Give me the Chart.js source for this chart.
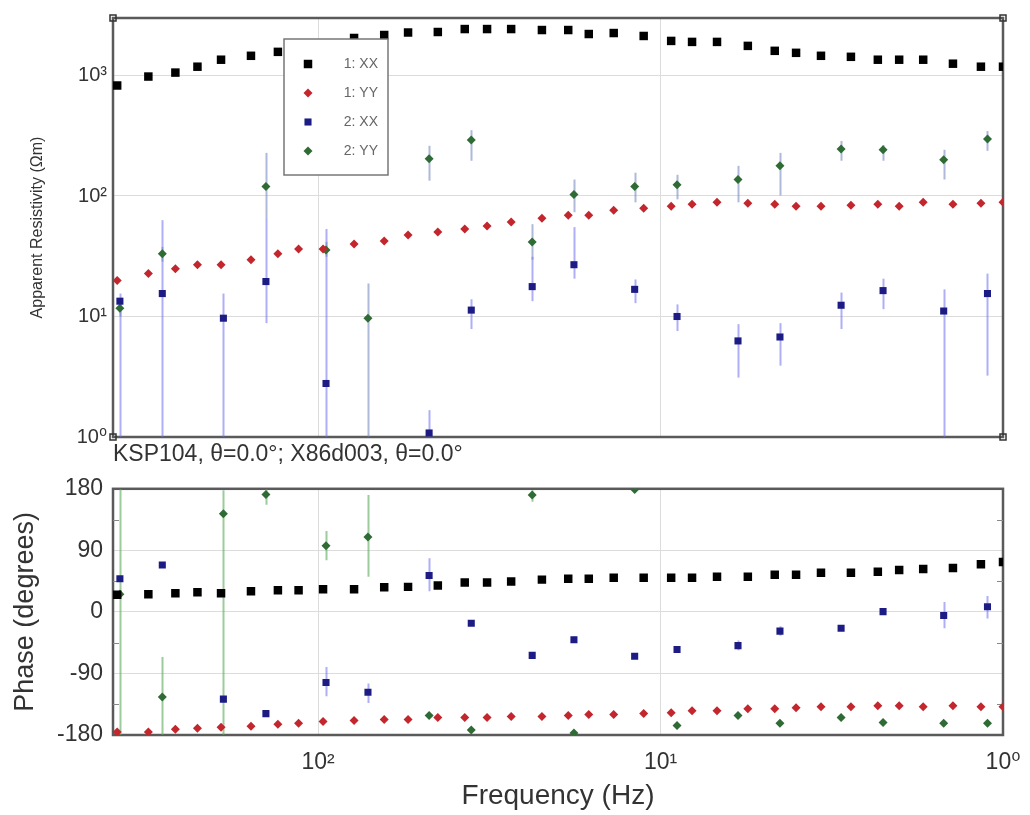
<!DOCTYPE html>
<html>
<head>
<meta charset="utf-8">
<script src="https://cdn.jsdelivr.net/npm/chart.js@4.4.0/dist/chart.umd.min.js"></script>
<style>
  body { margin: 0; background: #fff; }
  #wrap { position: relative; width: 1030px; height: 815px; overflow: hidden; }
  .box { position: absolute; left: 0; width: 1030px; }
</style>
</head>
<body>
<div id="wrap">
  <div class="box" style="top:0;height:465px"><canvas id="rhoChart"></canvas></div>
  <div class="box" style="top:465px;height:350px"><canvas id="phaseChart"></canvas></div>
</div>
<script>
// site 1 (KSP104) frequencies, Hz
var freq1 = [386, 313, 261, 225, 192, 157, 131, 114, 96.7, 78.5, 64.1, 54.6, 44.7, 37.3, 32.1, 27.3, 22.2, 18.6,
  16.2, 13.7, 11.2, 9.31, 8.09, 6.84, 5.56, 4.64, 4.02, 3.40, 2.78, 2.32, 2.01, 1.71, 1.40, 1.16, 1.0];
var rhoXX1 = [826, 980, 1057, 1183, 1352, 1457, 1571, 1663, 1761, 2048, 2168, 2274, 2296, 2429, 2429, 2429, 2384, 2384,
  2209, 2251, 2128, 1936, 1900, 1900, 1761, 1602, 1542, 1457, 1429, 1352, 1352, 1352, 1253, 1183, 1183];
var rhoYY1 = [19.9, 22.7, 24.9, 26.9, 26.9, 29.6, 33.1, 36.4, 36.4, 40.0, 42.4, 47.5, 50.2, 53.2, 56.3, 60.7, 65.5, 69.3,
  69.3, 76.2, 79.1, 82.2, 85.3, 88.6, 86.9, 85.3, 82.2, 82.2, 83.7, 85.3, 82.2, 88.6, 85.3, 86.9, 88.6];
var phsXX1 = [25, 25.9, 27.3, 28.8, 27.3, 30.2, 31.6, 31.6, 33.0, 33.0, 35.9, 36.6, 38.7, 43.0, 43.0, 44.4, 47.2, 48.6,
  48.6, 50.1, 50.1, 50.1, 50.1, 51.5, 51.5, 54.3, 54.3, 57.2, 57.2, 58.6, 61.4, 62.8, 64.3, 69.7, 72.8];
var phsYY1 = [-175.7, -175.7, -171.5, -170.1, -168.6, -167.2, -164.4, -163.0, -160.1, -158.7, -157.3, -157.3, -154.4,
  -154.4, -154.4, -153.0, -153.0, -151.6, -150.2, -150.2, -148.7, -147.3, -144.5, -144.5, -141.6, -141.6, -140.2,
  -138.8, -138.8, -137.4, -137.4, -138.8, -137.4, -138.8, -138.8];

// site 2 (X86d003) frequencies, Hz, with error bar ends
var freq2 = [379, 285, 189, 142, 94.8, 71.5, 47.4, 35.7, 23.7, 17.9, 11.9, 8.95, 5.94, 4.48, 2.97, 2.24, 1.49, 1.11];
var rhoXX2 = [13.4, 15.5, 9.68, 19.5, 2.78, null, 1.08, 11.3, 17.7, 26.9, 16.8, 10.0, 6.27, 6.76, 12.4, 16.4, 11.1, 15.5];
var rhoXX2Lo = [0.5, 0.5, 0.5, 8.81, 0.5, null, 0.94, 7.87, 13.4, 20.6, 12.9, 7.57, 3.11, 3.91, 7.87, 11.5, 0.5, 3.23];
var rhoXX2Hi = [15.5, 63.0, 15.5, 66.7, 53.2, null, 1.67, 13.9, 31.3, 55.2, 20.3, 12.6, 8.64, 8.81, 15.8, 20.6, 16.8, 22.7];
var rhoYY2 = [11.7, 33.1, null, 120, 35.7, 9.68, 204, 292, 41.6, 103, 120, 124, 137, 178, 246, 242, 200, 297];
var rhoYY2Lo = [10.0, 28.5, null, 66.7, 31.3, 0.5, 134, 196, 29.6, 73.3, 88.6, 93.8, 88.6, 101, 196, 196, 137, 237];
var rhoYY2Hi = [13.4, 37.8, null, 228, 41.6, 18.8, 261, 352, 58.4, 137, 156, 150, 178, 228, 286, 265, 242, 346];
var phsXX2 = [48.6, 68.5, -127.5, -148.7, -103.3, -117.5, 53.3, -16.7, -63.6, -40.8, -64.9, -55.0, -49.3, -28.1,
  -23.8, 0.4, -5.3, 7.5];
var phsXX2Lo = [45, 65, -131, -152, -123.2, -133.1, 30.2, -20, -67, -45, -69, -60, -56, -35, -28, -4, -23.8, -9.6];
var phsXX2Hi = [52, 72, -124, -145, -80.6, -104.7, 78.5, -13, -60, -36, -60, -50, -42, -21, -19, 5, 14.6, 23.1];
var phsYY2 = [25.9, -124.6, 143.5, 171.7, 96.9, 109.7, -151.6, -172.6, 170.8, -176.9, 179, -166.1, -151.6, -163.0,
  -154.4, -161.6, -163.0, -163.0];
var phsYY2Lo = [-180, -180, -180, 156.6, 75.6, 51.5, -155, -176, 160.9, -180, 176, -169, -155, -166, -157, -165, -166, -166];
var phsYY2Hi = [180, -65.9, 177.9, 179.3, 118.2, 170.8, -148, -169, 177.9, -174, 182, -163, -148, -160, -151, -158, -160, -160];

// axes
var freqMin = 1, freqMax = 397;
var freqTicks = [1, 10, 100];
var freqTickLabels = ['10⁰', '10¹', '10²'];
var rhoMin = 1, rhoMax = 3000;
var rhoTicks = [1, 10, 100, 1000];
var rhoTickLabels = ['10⁰', '10¹', '10²', '10³'];
var phaseTicks = [-180, -90, 0, 90, 180];
var phaseMinorTicks = [-135, -45, 45, 135];
var seriesLabels = ['1: XX', '1: YY', '2: XX', '2: YY'];
var noteText = 'KSP104, θ=0.0°; X86d003, θ=0.0°';

Chart.defaults.font.family = '"Liberation Sans", Arial, "DejaVu Sans", sans-serif';
Chart.defaults.color = '#333';

var gridColor = '#dcdcdc';
var colXX1 = '#000000', colYY1 = '#c3262c', colXX2 = '#1c1c84', colYY2 = '#2f6b35';

function pts(xs, ys) {
  return xs.map(function(x, i) { return { x: x, y: ys[i] }; });
}

// frame round the plot area, corner squares and small inside ticks
var framePlugin = {
  id: 'frame',
  beforeDatasetsDraw: function(chart, args, opts) {
    var a = chart.chartArea, ctx = chart.ctx;
    ctx.save();
    ctx.strokeStyle = '#5a5a5a';
    ctx.lineWidth = 2.5;
    ctx.strokeRect(a.left, a.top, a.right - a.left, a.bottom - a.top);
    if (opts.minor) {
      ctx.lineWidth = 1;
      ctx.strokeStyle = '#888';
      opts.minor.forEach(function(v) {
        var y = Math.round(chart.scales.y.getPixelForValue(v)) + 0.5;
        ctx.beginPath();
        ctx.moveTo(a.left, y); ctx.lineTo(a.left + 6, y);
        ctx.moveTo(a.right, y); ctx.lineTo(a.right - 6, y);
        ctx.stroke();
      });
    }
    if (opts.corners) {
      ctx.lineWidth = 1.5;
      ctx.strokeStyle = '#333';
      [[a.left, a.top], [a.right, a.top], [a.left, a.bottom], [a.right, a.bottom]].forEach(function(c) {
        ctx.strokeRect(c[0] - 3, c[1] - 3, 6, 6);
      });
    }
    ctx.restore();
  }
};

// vertical error bars from errLo / errHi on each dataset
var errorBarPlugin = {
  id: 'errorBars',
  beforeDatasetsDraw: function(chart) {
    var ctx = chart.ctx, a = chart.chartArea;
    var xs = chart.scales.x, ys = chart.scales.y;
    ctx.save();
    ctx.beginPath();
    ctx.rect(a.left, a.top, a.right - a.left, a.bottom - a.top);
    ctx.clip();
    chart.data.datasets.forEach(function(ds) {
      if (!ds.errLo) return;
      ctx.strokeStyle = ds.errColor;
      ctx.lineWidth = 2;
      ds.data.forEach(function(p, i) {
        if (ds.errLo[i] === null || ds.errHi[i] === null) return;
        var x = Math.round(xs.getPixelForValue(p.x)) + 0.5;
        ctx.beginPath();
        ctx.moveTo(x, ys.getPixelForValue(ds.errLo[i]));
        ctx.lineTo(x, ys.getPixelForValue(ds.errHi[i]));
        ctx.stroke();
      });
    });
    ctx.restore();
  }
};

// legend box inside the top panel
var legendPlugin = {
  id: 'boxLegend',
  afterDatasetsDraw: function(chart) {
    var ctx = chart.ctx, a = chart.chartArea;
    var bx = a.left + 171, by = a.top + 21, bw = 104, bh = 136;
    ctx.save();
    ctx.fillStyle = '#fff';
    ctx.fillRect(bx, by, bw, bh);
    ctx.strokeStyle = '#777';
    ctx.lineWidth = 1.5;
    ctx.strokeRect(bx, by, bw, bh);
    ctx.font = '14px "Liberation Sans", Arial, sans-serif';
    ctx.textAlign = 'right';
    ctx.textBaseline = 'middle';
    chart.data.datasets.forEach(function(ds, i) {
      var y = by + 25 + i * 29;
      ctx.fillStyle = ds.backgroundColor;
      Chart.helpers.drawPoint(ctx, { pointStyle: ds.pointStyle, radius: ds.pointRadius, borderWidth: 0 }, bx + 24, y);
      ctx.fillStyle = '#666';
      ctx.fillText(ds.label, bx + bw - 10, y);
    });
    ctx.restore();
  }
};

// station note under the top panel
var notePlugin = {
  id: 'note',
  afterDraw: function(chart) {
    var ctx = chart.ctx, a = chart.chartArea;
    ctx.save();
    ctx.font = '23px "Liberation Sans", Arial, sans-serif';
    ctx.fillStyle = '#333';
    ctx.textAlign = 'left';
    ctx.textBaseline = 'middle';
    ctx.fillText(noteText, a.left, a.bottom + 18);
    ctx.restore();
  }
};

function freqAxis(showLabels) {
  return {
    type: 'logarithmic',
    reverse: true,
    min: freqMin,
    max: freqMax,
    afterBuildTicks: function(s) { s.ticks = freqTicks.map(function(v) { return { value: v }; }); },
    afterFit: function(s) { s.height = showLabels ? 80 : 28; },
    grid: { color: gridColor, drawTicks: false },
    border: { display: false },
    ticks: {
      display: showLabels,
      padding: 14,
      font: { size: 23 },
      color: '#333',
      maxRotation: 0,
      callback: function(v, i) { return freqTickLabels[i]; }
    },
    title: {
      display: showLabels,
      text: 'Frequency (Hz)',
      font: { size: 28 },
      color: '#333',
      padding: { top: 0, bottom: 2 }
    }
  };
}

var pointOpts = {
  xx1: { pointStyle: 'rect', pointRadius: 6, backgroundColor: colXX1, borderColor: colXX1, borderWidth: 0 },
  yy1: { pointStyle: 'rectRot', pointRadius: 4.5, backgroundColor: colYY1, borderColor: colYY1, borderWidth: 0 },
  xx2: { pointStyle: 'rect', pointRadius: 5, backgroundColor: colXX2, borderColor: colXX2, borderWidth: 0 },
  yy2: { pointStyle: 'rectRot', pointRadius: 4.5, backgroundColor: colYY2, borderColor: colYY2, borderWidth: 0 }
};

function ds(label, data, style, extra) {
  var d = Object.assign({ label: label, data: data, pointHoverRadius: style.pointRadius }, style);
  return Object.assign(d, extra || {});
}

// top panel: apparent resistivity
new Chart(document.getElementById('rhoChart'), {
  type: 'scatter',
  data: {
    datasets: [
      ds(seriesLabels[0], pts(freq1, rhoXX1), pointOpts.xx1),
      ds(seriesLabels[1], pts(freq1, rhoYY1), pointOpts.yy1),
      ds(seriesLabels[2], pts(freq2, rhoXX2), pointOpts.xx2,
        { errLo: rhoXX2Lo, errHi: rhoXX2Hi, errColor: 'rgba(110,110,240,0.55)' }),
      ds(seriesLabels[3], pts(freq2, rhoYY2), pointOpts.yy2,
        { errLo: rhoYY2Lo, errHi: rhoYY2Hi, errColor: 'rgba(110,130,190,0.55)' })
    ]
  },
  options: {
    responsive: true,
    maintainAspectRatio: false,
    animation: false,
    layout: { padding: { top: 14, right: 27, left: 0, bottom: 0 } },
    plugins: { legend: { display: false }, tooltip: { enabled: false }, frame: { corners: true } },
    scales: {
      x: freqAxis(false),
      y: {
        type: 'logarithmic',
        min: rhoMin,
        max: rhoMax,
        afterBuildTicks: function(s) { s.ticks = rhoTicks.map(function(v) { return { value: v }; }); },
        afterFit: function(s) { s.width = 113; },
        grid: { color: gridColor, drawTicks: false },
        border: { display: false },
        ticks: {
          padding: 6,
          font: { size: 20 },
          color: '#333',
          callback: function(v, i) { return rhoTickLabels[i]; }
        },
        title: {
          display: true,
          text: 'Apparent Resistivity (Ωm)',
          font: { size: 16 },
          color: '#333',
          padding: { top: 28, bottom: 0 }
        }
      }
    }
  },
  plugins: [framePlugin, errorBarPlugin, legendPlugin, notePlugin]
});

// bottom panel: phase
new Chart(document.getElementById('phaseChart'), {
  type: 'scatter',
  data: {
    datasets: [
      ds(seriesLabels[0], pts(freq1, phsXX1), pointOpts.xx1),
      ds(seriesLabels[1], pts(freq1, phsYY1), pointOpts.yy1),
      ds(seriesLabels[2], pts(freq2, phsXX2), pointOpts.xx2,
        { errLo: phsXX2Lo, errHi: phsXX2Hi, errColor: 'rgba(110,110,240,0.55)' }),
      ds(seriesLabels[3], pts(freq2, phsYY2), pointOpts.yy2,
        { errLo: phsYY2Lo, errHi: phsYY2Hi, errColor: 'rgba(90,170,90,0.6)' })
    ]
  },
  options: {
    responsive: true,
    maintainAspectRatio: false,
    animation: false,
    layout: { padding: { top: 16.5, right: 27, left: 0, bottom: 0 } },
    plugins: { legend: { display: false }, tooltip: { enabled: false }, frame: { corners: false, minor: phaseMinorTicks } },
    scales: {
      x: freqAxis(true),
      y: {
        type: 'linear',
        min: -180,
        max: 180,
        afterBuildTicks: function(s) { s.ticks = phaseTicks.map(function(v) { return { value: v }; }); },
        afterFit: function(s) { s.width = 113; },
        grid: { color: gridColor, drawTicks: false },
        border: { display: false },
        ticks: { padding: 10, font: { size: 23 }, color: '#333' },
        title: {
          display: true,
          text: 'Phase (degrees)',
          font: { size: 27 },
          color: '#333',
          padding: { top: 9, bottom: 0 }
        }
      }
    }
  },
  plugins: [framePlugin, errorBarPlugin]
});
</script>
</body>
</html>
